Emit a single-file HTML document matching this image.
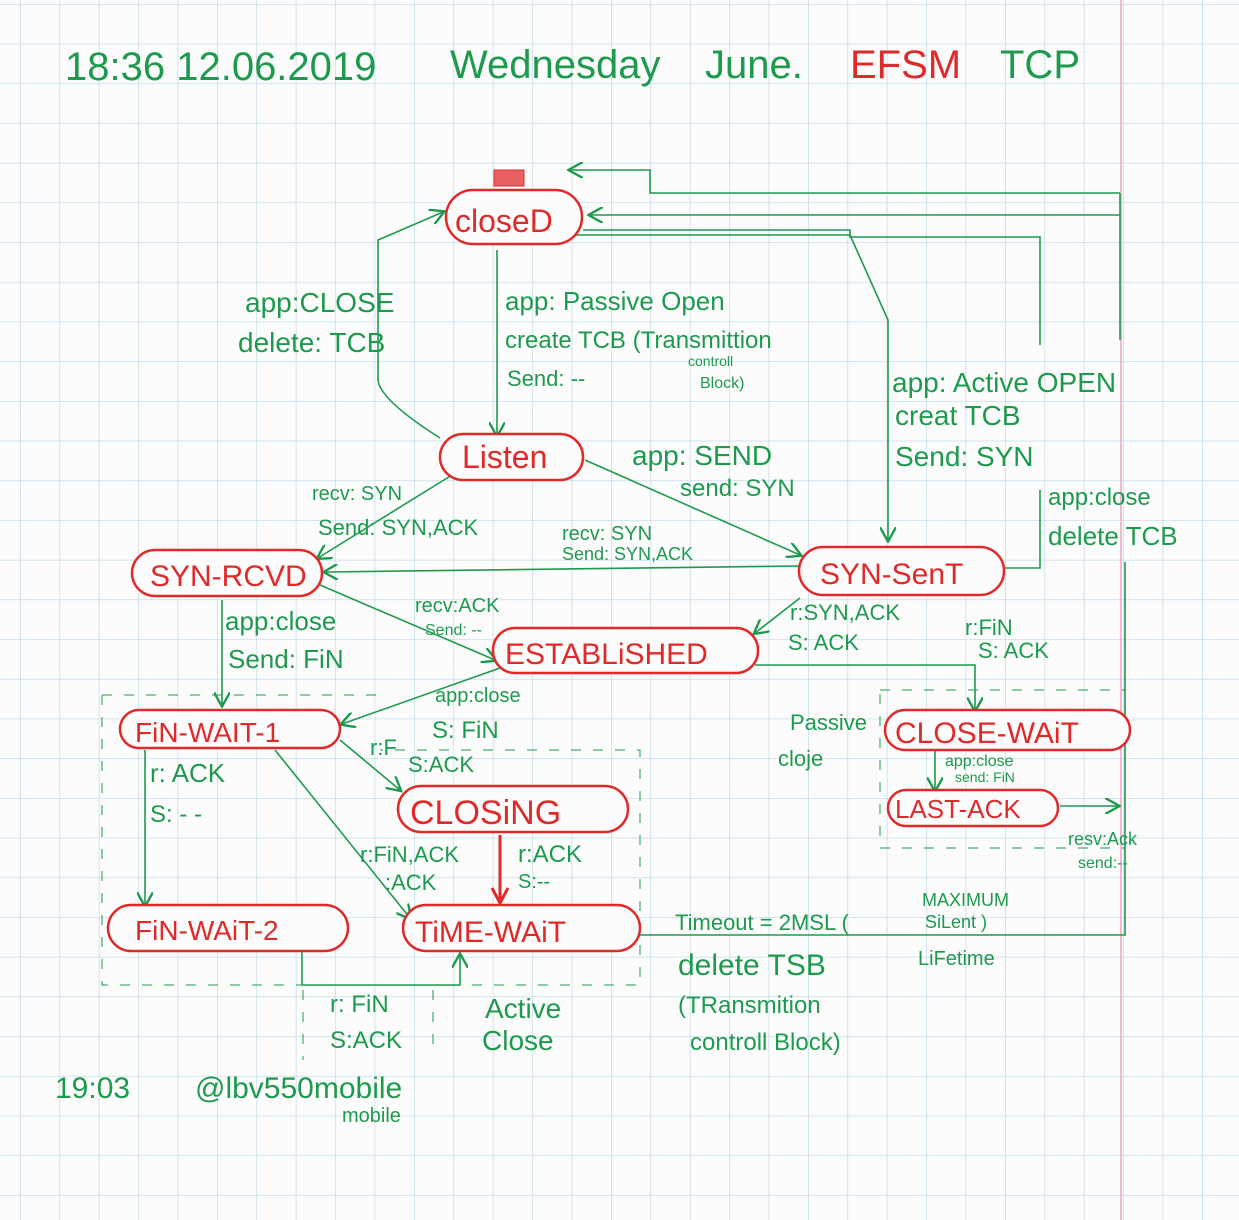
<!DOCTYPE html>
<html><head><meta charset="utf-8"><style>
body{margin:0;background:#fbfcfb}
svg{display:block}
text{font-family:"Liberation Sans",sans-serif}
.g{fill:#1e9a4e}
.r{fill:#e02a2a}
</style></head><body>
<svg width="1239" height="1220" xmlns="http://www.w3.org/2000/svg">
<defs>
<pattern id="grid" x="20" y="4" width="39.4" height="39.7" patternUnits="userSpaceOnUse">
<path d="M0 0V39.7M0 0H39.4" stroke="#bcd5ea" stroke-width="1.3" fill="none"/>
</pattern>
<marker id="a" markerWidth="10" markerHeight="10" refX="8" refY="5" orient="auto"><path d="M0 0L9 5L0 10" fill="none" stroke="#1e9a4e" stroke-width="1.5"/></marker>
</defs>
<rect width="1239" height="1220" fill="url(#grid)"/>
<line x1="1121" y1="0" x2="1121" y2="1220" stroke="#f0a0c8" stroke-width="1.5"/>
<g stroke="#1e9a4e" stroke-width="1.6" fill="none">
<path d="M497 250V435" marker-end="url(#a)"/>
<path d="M440 438Q380 400 378 380V240L443 212" marker-end="url(#a)"/>
<path d="M1120 193H650V170H570" marker-end="url(#a)"/>
<path d="M1120 193V340"/>
<path d="M1040 345V237H850V230H583"/>
<path d="M1005 568H1040V490"/>
<path d="M1125 562V935H640"/>
<path d="M1120 215H590" marker-end="url(#a)"/>
<path d="M570 235H850L888 320V540" marker-end="url(#a)"/>
<path d="M585 460L800 555" marker-end="url(#a)"/>
<path d="M460 470L318 558" marker-end="url(#a)"/>
<path d="M800 566L325 572" marker-end="url(#a)"/>
<path d="M320 585L495 660" marker-end="url(#a)"/>
<path d="M800 598L755 633" marker-end="url(#a)"/>
<path d="M222 600V705" marker-end="url(#a)"/>
<path d="M500 668L342 724" marker-end="url(#a)"/>
<path d="M755 665H975V710" marker-end="url(#a)"/>
<path d="M340 740L400 790" marker-end="url(#a)"/>
<path d="M145 750V905" marker-end="url(#a)"/>
<path d="M275 750L410 918" marker-end="url(#a)"/>
<path d="M302 952V985H460V955" marker-end="url(#a)"/>
<path d="M935 750V790" marker-end="url(#a)"/>
<path d="M1060 806H1118" marker-end="url(#a)"/>
</g>
<line x1="500" y1="835" x2="500" y2="900" stroke="#e02a2a" stroke-width="3"/>
<path d="M492 888L500 903L508 888" stroke="#e02a2a" stroke-width="3" fill="none"/>
<g stroke="#1e9a4e" stroke-width="1" stroke-dasharray="10 12" fill="none">
<path d="M102 695H380M102 695V985H640V750H380"/>
<path d="M880 690H1125V848H880Z"/>
<path d="M303 990V1060M433 990V1055"/>
</g>
<g fill="#fbfcfb" stroke="#e02a2a" stroke-width="2.5">
<rect x="446" y="190" width="136" height="54" rx="27"/>
<rect x="440" y="434" width="143" height="46" rx="23"/>
<rect x="132" y="550" width="190" height="46" rx="23"/>
<rect x="799" y="547" width="205" height="48" rx="24"/>
<rect x="493" y="628" width="265" height="45" rx="22"/>
<rect x="120" y="710" width="220" height="38" rx="19"/>
<rect x="885" y="710" width="245" height="40" rx="20"/>
<rect x="398" y="786" width="230" height="46" rx="23"/>
<rect x="888" y="790" width="170" height="36" rx="18"/>
<rect x="108" y="905" width="240" height="46" rx="23"/>
<rect x="403" y="905" width="237" height="46" rx="23"/>
</g>
<rect x="494" y="170" width="30" height="16" fill="#e86060" stroke="#e02a2a"/>
<g class="r" font-size="32">
<text x="455" y="232">closeD</text>
<text x="462" y="468">Listen</text>
<text x="150" y="586" font-size="30">SYN-RCVD</text>
<text x="820" y="584" font-size="30">SYN-SenT</text>
<text x="505" y="664" font-size="30">ESTABLiSHED</text>
<text x="135" y="742" font-size="28">FiN-WAIT-1</text>
<text x="895" y="743" font-size="30">CLOSE-WAiT</text>
<text x="410" y="824" font-size="34">CLOSiNG</text>
<text x="895" y="818" font-size="26">LAST-ACK</text>
<text x="135" y="940" font-size="28">FiN-WAiT-2</text>
<text x="415" y="942" font-size="30">TiME-WAiT</text>
<text x="850" y="78" font-size="40">EFSM</text>
</g>
<g class="g" font-size="40">
<text x="65" y="80">18:36 12.06.2019</text>
<text x="450" y="78">Wednesday</text>
<text x="705" y="78">June.</text>
<text x="1000" y="78">TCP</text>
</g>
<g class="g" font-size="28">
<text x="245" y="312">app:CLOSE</text>
<text x="238" y="352">delete: TCB</text>
<text x="505" y="310" font-size="26">app: Passive Open</text>
<text x="505" y="348" font-size="24">create TCB (Transmittion</text>
<text x="688" y="366" font-size="14">controll</text>
<text x="700" y="388" font-size="16">Block)</text>
<text x="507" y="386" font-size="22">Send: --</text>
<text x="892" y="392" font-size="28">app: Active OPEN</text>
<text x="895" y="425" font-size="28">creat  TCB</text>
<text x="895" y="466" font-size="28">Send:  SYN</text>
<text x="632" y="465" font-size="28">app: SEND</text>
<text x="680" y="496" font-size="24">send: SYN</text>
<text x="312" y="500" font-size="20">recv: SYN</text>
<text x="318" y="535" font-size="22">Send: SYN,ACK</text>
<text x="562" y="540" font-size="20">recv: SYN</text>
<text x="562" y="560" font-size="18">Send: SYN,ACK</text>
<text x="1048" y="505" font-size="24">app:close</text>
<text x="1048" y="545" font-size="26">delete TCB</text>
<text x="225" y="630" font-size="26">app:close</text>
<text x="228" y="668" font-size="26">Send: FiN</text>
<text x="415" y="612" font-size="20">recv:ACK</text>
<text x="425" y="635" font-size="16">Send: --</text>
<text x="790" y="620" font-size="22">r:SYN,ACK</text>
<text x="788" y="650" font-size="22">S: ACK</text>
<text x="965" y="635" font-size="22">r:FiN</text>
<text x="978" y="658" font-size="22">S: ACK</text>
<text x="435" y="702" font-size="20">app:close</text>
<text x="432" y="738" font-size="24">S: FiN</text>
<text x="790" y="730" font-size="22">Passive</text>
<text x="778" y="766" font-size="22">cloje</text>
<text x="945" y="766" font-size="16">app:close</text>
<text x="955" y="782" font-size="14">send: FiN</text>
<text x="150" y="782" font-size="26">r: ACK</text>
<text x="150" y="822" font-size="24">S: - -</text>
<text x="370" y="755" font-size="22">r:F</text>
<text x="408" y="772" font-size="22">S:ACK</text>
<text x="360" y="862" font-size="22">r:FiN,ACK</text>
<text x="385" y="890" font-size="22">:ACK</text>
<text x="518" y="862" font-size="24">r:ACK</text>
<text x="518" y="888" font-size="20">S:--</text>
<text x="1068" y="845" font-size="18">resv:Ack</text>
<text x="1078" y="868" font-size="16">send:--</text>
<text x="675" y="930" font-size="22">Timeout = 2MSL (</text>
<text x="922" y="906" font-size="18">MAXIMUM</text>
<text x="925" y="928" font-size="18">SiLent )</text>
<text x="918" y="965" font-size="20">LiFetime</text>
<text x="678" y="975" font-size="30">delete TSB</text>
<text x="678" y="1013" font-size="24">(TRansmition</text>
<text x="690" y="1050" font-size="24">controll Block)</text>
<text x="330" y="1012" font-size="24">r: FiN</text>
<text x="330" y="1048" font-size="24">S:ACK</text>
<text x="485" y="1018" font-size="28">Active</text>
<text x="482" y="1050" font-size="28">Close</text>
<text x="55" y="1098" font-size="30">19:03</text>
<text x="195" y="1098" font-size="30">@lbv550mobile</text>
<text x="342" y="1122" font-size="20">mobile</text>
</g>
</svg>
</body></html>
